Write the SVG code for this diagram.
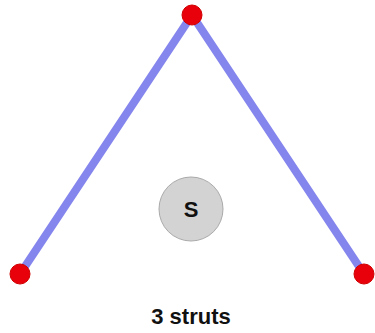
<svg xmlns="http://www.w3.org/2000/svg" width="375" height="333" viewBox="0 0 375 333">
<style>
.strut{stroke:#8585ee;stroke-width:8;stroke-linecap:round;fill:none}
.joint{fill:#e8000b;stroke:#d00000;stroke-width:1}
.label{font-family:"Liberation Sans",Arial,sans-serif;font-weight:bold;text-anchor:middle;fill:#111}
</style>
<rect width="375" height="333" fill="#fff"/>
<g id="connectors">
<line class="strut" x1="192" y1="15" x2="20" y2="274"/>
<line class="strut" x1="192" y1="15" x2="364" y2="274"/>
</g>
<g id="top"><circle class="joint" cx="192" cy="15" r="10"/></g>
<g id="left"><circle class="joint" cx="20" cy="274" r="10"/></g>
<g id="right"><circle class="joint" cx="364" cy="274" r="10"/></g>
<g id="S">
<circle cx="191" cy="209" r="32" fill="#d3d3d3" stroke="#aaa" stroke-width="1"/>
<text class="label" x="191" y="217" font-size="22">S</text>
</g>
<text class="label" x="191" y="324" font-size="22">3 struts</text>
</svg>
